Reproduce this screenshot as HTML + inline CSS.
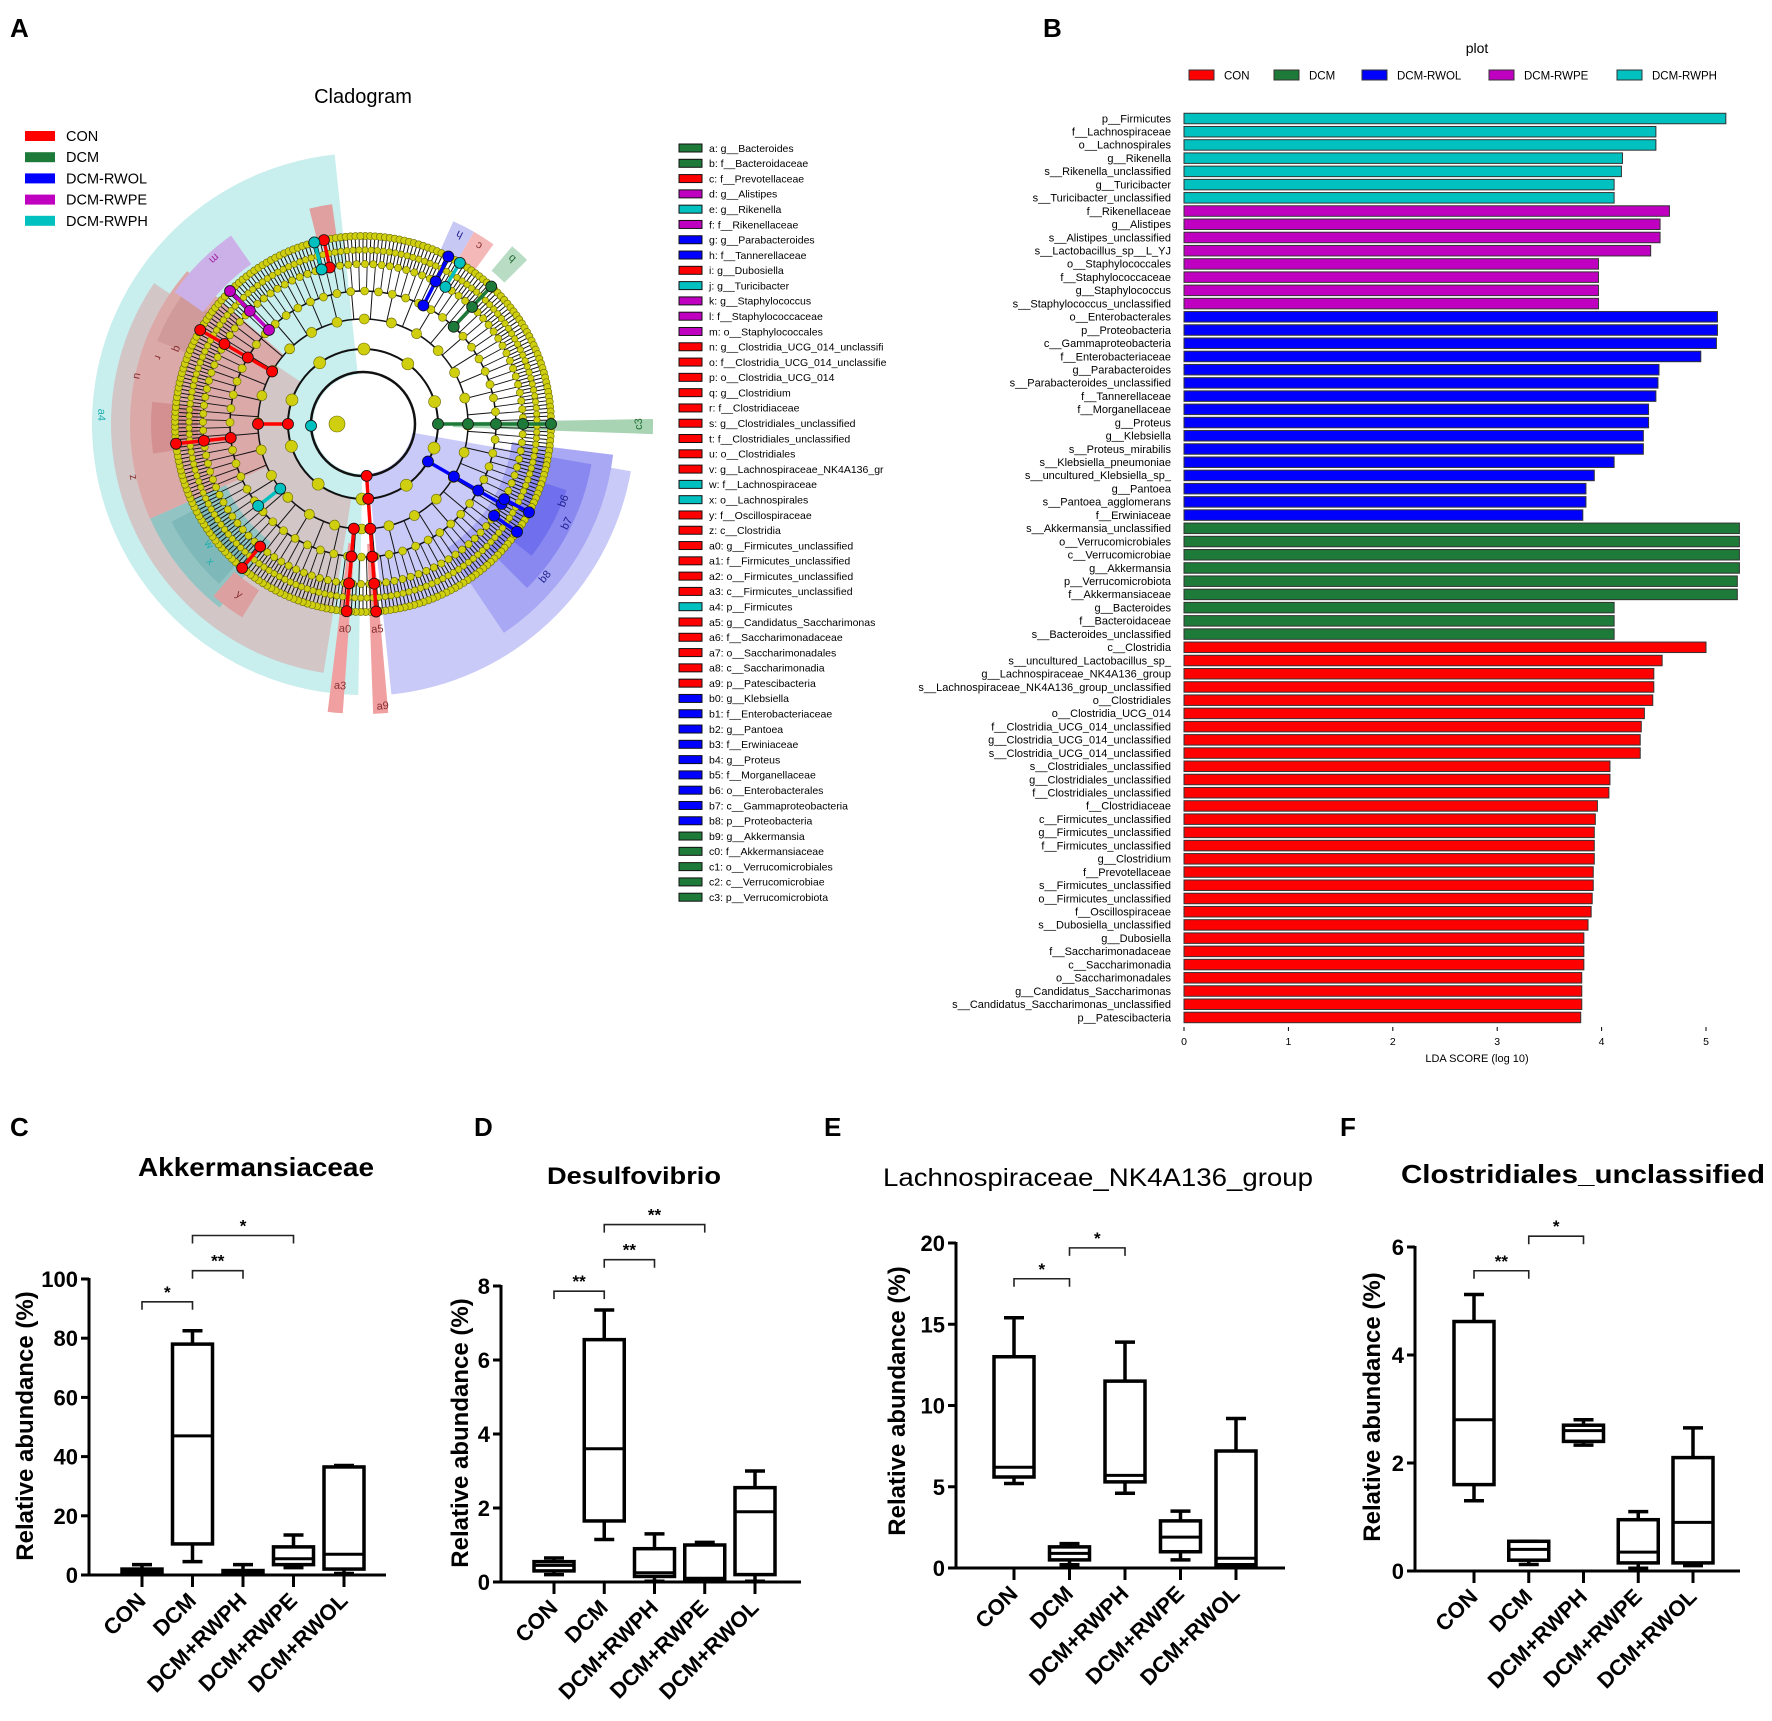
<!DOCTYPE html>
<html><head><meta charset="utf-8"><style>
html,body{margin:0;padding:0;background:#fff;}
svg text{font-family:"Liberation Sans",sans-serif;}
</style></head><body>
<svg id="fig" xmlns="http://www.w3.org/2000/svg" width="1772" height="1716" viewBox="0 0 1772 1716">
<rect x="0" y="0" width="1772" height="1716" fill="#fff"/>
<g id="panelA">
 <text x="10" y="37" font-size="26" font-weight="bold">A</text>
 <text x="363" y="103" font-size="20" text-anchor="middle">Cladogram</text>
 <g id="cladoLegend"></g>
 <g id="clado"></g>
 <g id="keyList"></g>
</g>
<g id="panelB">
 <text x="1043" y="37" font-size="26" font-weight="bold">B</text>
 <text x="1477" y="53" font-size="14" text-anchor="middle">plot</text>
 <g id="ldaLegend"></g>
 <g id="ldaBars"></g>
 <g id="ldaAxis"></g>
 <text x="1477" y="1062" font-size="11" text-anchor="middle">LDA SCORE (log 10)</text>
</g>
<g id="boxes"></g>
</svg>
<script>
const NS="http://www.w3.org/2000/svg";
function mk(parent,tag,attrs,text){const e=document.createElementNS(NS,tag);for(const k in attrs)e.setAttribute(k,attrs[k]);if(text!==undefined)e.textContent=text;parent.appendChild(e);return e;}

/* ---------- Panel B data ---------- */
const ldaLabels=["p__Firmicutes","f__Lachnospiraceae","o__Lachnospirales","g__Rikenella","s__Rikenella_unclassified","g__Turicibacter","s__Turicibacter_unclassified",
"f__Rikenellaceae","g__Alistipes","s__Alistipes_unclassified","s__Lactobacillus_sp__L_YJ","o__Staphylococcales","f__Staphylococcaceae","g__Staphylococcus","s__Staphylococcus_unclassified",
"o__Enterobacterales","p__Proteobacteria","c__Gammaproteobacteria","f__Enterobacteriaceae","g__Parabacteroides","s__Parabacteroides_unclassified","f__Tannerellaceae","f__Morganellaceae","g__Proteus","g__Klebsiella","s__Proteus_mirabilis","s__Klebsiella_pneumoniae","s__uncultured_Klebsiella_sp_","g__Pantoea","s__Pantoea_agglomerans","f__Erwiniaceae",
"s__Akkermansia_unclassified","o__Verrucomicrobiales","c__Verrucomicrobiae","g__Akkermansia","p__Verrucomicrobiota","f__Akkermansiaceae","g__Bacteroides","f__Bacteroidaceae","s__Bacteroides_unclassified",
"c__Clostridia","s__uncultured_Lactobacillus_sp_","g__Lachnospiraceae_NK4A136_group","s__Lachnospiraceae_NK4A136_group_unclassified","o__Clostridiales","o__Clostridia_UCG_014","f__Clostridia_UCG_014_unclassified","g__Clostridia_UCG_014_unclassified","s__Clostridia_UCG_014_unclassified","s__Clostridiales_unclassified","g__Clostridiales_unclassified","f__Clostridiales_unclassified","f__Clostridiaceae","c__Firmicutes_unclassified","g__Firmicutes_unclassified","f__Firmicutes_unclassified","g__Clostridium","f__Prevotellaceae","s__Firmicutes_unclassified","o__Firmicutes_unclassified","f__Oscillospiraceae","s__Dubosiella_unclassified","g__Dubosiella","f__Saccharimonadaceae","c__Saccharimonadia","o__Saccharimonadales","g__Candidatus_Saccharimonas","s__Candidatus_Saccharimonas_unclassified","p__Patescibacteria"];
const ldaScores=[5.19,4.52,4.52,4.20,4.19,4.12,4.12,
4.65,4.56,4.56,4.47,3.97,3.97,3.97,3.97,
5.11,5.11,5.10,4.95,4.55,4.54,4.52,4.45,4.45,4.40,4.40,4.12,3.93,3.85,3.85,3.82,
5.32,5.32,5.32,5.32,5.30,5.30,4.12,4.12,4.12,
5.00,4.58,4.50,4.50,4.49,4.41,4.38,4.37,4.37,4.08,4.08,4.07,3.96,3.94,3.93,3.93,3.93,3.92,3.92,3.91,3.90,3.87,3.83,3.83,3.83,3.81,3.81,3.81,3.80];
const ldaGroups=["DCM-RWPH","DCM-RWPH","DCM-RWPH","DCM-RWPH","DCM-RWPH","DCM-RWPH","DCM-RWPH",
"DCM-RWPE","DCM-RWPE","DCM-RWPE","DCM-RWPE","DCM-RWPE","DCM-RWPE","DCM-RWPE","DCM-RWPE",
"DCM-RWOL","DCM-RWOL","DCM-RWOL","DCM-RWOL","DCM-RWOL","DCM-RWOL","DCM-RWOL","DCM-RWOL","DCM-RWOL","DCM-RWOL","DCM-RWOL","DCM-RWOL","DCM-RWOL","DCM-RWOL","DCM-RWOL","DCM-RWOL",
"DCM","DCM","DCM","DCM","DCM","DCM","DCM","DCM","DCM",
"CON","CON","CON","CON","CON","CON","CON","CON","CON","CON","CON","CON","CON","CON","CON","CON","CON","CON","CON","CON","CON","CON","CON","CON","CON","CON","CON","CON","CON"];
const groupNames=["CON","DCM","DCM-RWOL","DCM-RWPE","DCM-RWPH"];
const groupColors={"CON":"#ff0000","DCM":"#1e7a38","DCM-RWOL":"#0000ff","DCM-RWPE":"#c000c0","DCM-RWPH":"#00c0c0"};
const ldaTicks=[0,1,2,3,4,5];

/* ---------- Cladogram key list ---------- */
const keyLabels=["a: g__Bacteroides","b: f__Bacteroidaceae","c: f__Prevotellaceae","d: g__Alistipes","e: g__Rikenella","f: f__Rikenellaceae","g: g__Parabacteroides","h: f__Tannerellaceae","i: g__Dubosiella","j: g__Turicibacter","k: g__Staphylococcus","l: f__Staphylococcaceae","m: o__Staphylococcales","n: g__Clostridia_UCG_014_unclassifi","o: f__Clostridia_UCG_014_unclassifie","p: o__Clostridia_UCG_014","q: g__Clostridium","r: f__Clostridiaceae","s: g__Clostridiales_unclassified","t: f__Clostridiales_unclassified","u: o__Clostridiales","v: g__Lachnospiraceae_NK4A136_gr","w: f__Lachnospiraceae","x: o__Lachnospirales","y: f__Oscillospiraceae","z: c__Clostridia","a0: g__Firmicutes_unclassified","a1: f__Firmicutes_unclassified","a2: o__Firmicutes_unclassified","a3: c__Firmicutes_unclassified","a4: p__Firmicutes","a5: g__Candidatus_Saccharimonas","a6: f__Saccharimonadaceae","a7: o__Saccharimonadales","a8: c__Saccharimonadia","a9: p__Patescibacteria","b0: g__Klebsiella","b1: f__Enterobacteriaceae","b2: g__Pantoea","b3: f__Erwiniaceae","b4: g__Proteus","b5: f__Morganellaceae","b6: o__Enterobacterales","b7: c__Gammaproteobacteria","b8: p__Proteobacteria","b9: g__Akkermansia","c0: f__Akkermansiaceae","c1: o__Verrucomicrobiales","c2: c__Verrucomicrobiae","c3: p__Verrucomicrobiota"];
const keyGroups=["DCM","DCM","CON","DCM-RWPE","DCM-RWPH","DCM-RWPE","DCM-RWOL","DCM-RWOL","CON","DCM-RWPH","DCM-RWPE","DCM-RWPE","DCM-RWPE","CON","CON","CON","CON","CON","CON","CON","CON","CON","DCM-RWPH","DCM-RWPH","CON","CON","CON","CON","CON","CON","DCM-RWPH","CON","CON","CON","CON","CON","DCM-RWOL","DCM-RWOL","DCM-RWOL","DCM-RWOL","DCM-RWOL","DCM-RWOL","DCM-RWOL","DCM-RWOL","DCM-RWOL","DCM","DCM","DCM","DCM","DCM"];

/* ---------- Boxplot data ---------- */
const boxCats=["CON","DCM","DCM+RWPH","DCM+RWPE","DCM+RWOL"];
const akkMin=[0.5,4.5,0.3,2.5,0.5], akkQ1=[0.7,10.5,0.5,3.5,2], akkMed=[1.5,47,1,5.5,7], akkQ3=[2,78,1.5,9.5,36.5], akkMax=[3.5,82.5,3.5,13.5,37];
const akkTicks=[0,20,40,60,80,100];
const akkSigFrom=[0,1,1], akkSigTo=[1,2,3], akkSigY=[92.3,102.8,114.7], akkSigTxt=["*","**","*"];
const desMin=[0.2,1.15,0.02,0.02,0.02], desQ1=[0.3,1.65,0.15,0.05,0.2], desMed=[0.45,3.6,0.25,0.1,1.9], desQ3=[0.55,6.55,0.9,1.0,2.55], desMax=[0.65,7.35,1.3,1.07,3.0];
const desTicks=[0,2,4,6,8];
const desSigFrom=[0,1,1], desSigTo=[1,2,3], desSigY=[7.86,8.71,9.66], desSigTxt=["**","**","**"];
const lacMin=[5.2,0.2,4.6,0.5,0.05], lacQ1=[5.6,0.5,5.3,1.0,0.2], lacMed=[6.2,0.9,5.7,1.9,0.6], lacQ3=[13,1.3,11.5,2.9,7.2], lacMax=[15.4,1.5,13.9,3.5,9.2];
const lacTicks=[0,5,10,15,20];
const lacSigFrom=[0,1], lacSigTo=[1,2], lacSigY=[17.8,19.7], lacSigTxt=["*","*"];
const cloMin=[1.3,0.12,2.33,0.05,0.1], cloQ1=[1.6,0.2,2.4,0.15,0.15], cloMed=[2.8,0.4,2.6,0.35,0.9], cloQ3=[4.62,0.55,2.7,0.95,2.1], cloMax=[5.12,0.55,2.8,1.1,2.65];
const cloTicks=[0,2,4,6];
const cloSigFrom=[0,1], cloSigTo=[1,2], cloSigY=[5.56,6.2], cloSigTxt=["**","*"];

/* ---------- Draw Panel B ---------- */
(function(){
 const X0=1184, PX=104.4, Y0=118.5, STEP=13.22, BH=10.5;
 const xs=v=>X0+v*PX, ys=i=>Y0+i*STEP;
 const lg=document.getElementById('ldaLegend');
 const legX=[1189,1274,1362,1489,1617];
 groupNames.forEach((g,i)=>{
  const r=mk(lg,'rect',{x:legX[i],y:70,width:25,height:10,fill:groupColors[g],stroke:'#333','stroke-width':1});
  
  
  const t=mk(lg,'text',{x:legX[i]+35,y:79.5,'font-size':11.5},g);
  
  
 });
 const bg=document.getElementById('ldaBars');
 ldaLabels.forEach((lab,i)=>{
  const y=ys(i);
  const b=mk(bg,'rect',{x:X0,y:y-BH/2,width:xs(ldaScores[i])-X0,height:BH,fill:groupColors[ldaGroups[i]],stroke:'#333','stroke-width':1});
  
  
  const t=mk(bg,'text',{x:1171,y:y+3.8,'font-size':11,'text-anchor':'end'},lab);
  
  
 });
 const ax=document.getElementById('ldaAxis');
 ldaTicks.forEach(v=>{
  const l=mk(ax,'line',{x1:xs(v),x2:xs(v),y1:1027,y2:1031,stroke:'#000','stroke-width':1});
  
  
  const t=mk(ax,'text',{x:xs(v),y:1045,'font-size':10.5,'text-anchor':'middle'},String(v));
  
  
 });
})();

/* ---------- Cladogram key list ---------- */
(function(){
 const kl=document.getElementById('keyList');
 keyLabels.forEach((lab,i)=>{
  const y=148+i*15.29;
  const r=mk(kl,'rect',{x:679,y:y-4,width:23,height:8,fill:groupColors[keyGroups[i]],stroke:'#111','stroke-width':1});
  
  
  const t=mk(kl,'text',{x:709,y:y+3.8,'font-size':10.5},lab);
  
  
 });
 const cl=document.getElementById('cladoLegend');
 groupNames.forEach((g,i)=>{
  const y=136+i*21.2;
  const r=mk(cl,'rect',{x:25,y:y-5,width:30,height:10,fill:groupColors[g]});
  
  
  const t=mk(cl,'text',{x:66,y:y+5,'font-size':14.5},g);
  
  
 });
})();

/* ---------- Cladogram drawing (decorative layout) ---------- */
(function(){
 const g=document.getElementById('clado');
 const CX=363, CY=424;
 const P=(r,a)=>{const t=a*Math.PI/180;return [CX+r*Math.sin(t),CY-r*Math.cos(t)];};
 function sec(r1,r2,a1,a2,fill,name){
  const large=(a2-a1)>180?1:0;
  const p1=P(r2,a1),p2=P(r2,a2),p3=P(r1,a2),p4=P(r1,a1);
  const d=`M${p1[0]},${p1[1]} A${r2},${r2} 0 ${large} 1 ${p2[0]},${p2[1]} L${p3[0]},${p3[1]} A${r1},${r1} 0 ${large} 0 ${p4[0]},${p4[1]} Z`;
  const e=mk(g,'path',{d:d,fill:fill});
  
  
 }
 sec(50,271,181,354,'#c8eeee','sector-a4');
 sec(75,252,189,304,'#d2c6c6','sector-z');
 sec(105,233,246,311,'#dca9a9','sector-u');
 sec(150,233,218,246,'#93c4c4','sector-x');
 sec(170,215,222,243,'#7fb8b8','sector-w');
 sec(196,228,212,221,'#dca0a0','sector-y');
 sec(50,272,100,174,'#cacaf8','sector-b8');
 sec(150,252,97,146,'#a8a8f4','sector-b7');
 sec(175,232,100,135,'#8888f0','sector-b6');
 sec(190,214,108,128,'#7070ee','sector-b0-b5');
 sec(165,212,262,276,'#d49090','sector-s-t');
 sec(190,222,292,306,'#d09a9a','sector-n-p');
 sec(195,230,305,325,'#ccb0e8','sector-k-m');
 sec(190,222,346,352,'#e0a0a0','sector-i-j');
 sec(190,222,24,30,'#c8c8f4','sector-g-h');
 sec(190,222,30,36,'#f4b8b8','sector-c');
 sec(200,232,40,45,'#b8dcc4','sector-a-b');
 sec(120,290,184,187,'#f0a0a0','strip-a0-a3');
 sec(120,290,175,178,'#f0a0a0','strip-a5-a9');
 sec(90,290,89,92,'#a8d4b4','strip-b9-c3');
 [[52,2.5],[75,2],[105,1.5],[133,1.5],[160,1.3]].forEach(([r,w])=>{
  const c=mk(g,'circle',{cx:CX,cy:CY,r:r,fill:'none',stroke:'#111','stroke-width':w});
  
  
 });
 const N=300;
 for(let i=0;i<N;i++){
  const a=i*360/N; const p1=P(160,a),p2=P(188,a);
  const l=mk(g,'line',{x1:p1[0],y1:p1[1],x2:p2[0],y2:p2[1],stroke:'#111','stroke-width':1});
  
  
 }
 for(let i=0;i<120;i++){
  const a=i*3+1.5; const p1=P(133,a),p2=P(160,a);
  const l=mk(g,'line',{x1:p1[0],y1:p1[1],x2:p2[0],y2:p2[1],stroke:'#111','stroke-width':0.9});
  
  
 }
 for(let i=0;i<40;i++){
  const a=i*9+4; const p1=P(105,a),p2=P(133,a);
  const l=mk(g,'line',{x1:p1[0],y1:p1[1],x2:p2[0],y2:p2[1],stroke:'#111','stroke-width':1});
  
  
 }
 const rings=[[188,240,3.6],[174,180,3.2],[160,120,3.6],[133,60,4],[105,24,5],[75,10,6]];
 rings.forEach(([r,n,s])=>{
  for(let i=0;i<n;i++){
   const p=P(r,i*360/n+0.7);
   const c=mk(g,'circle',{cx:p[0],cy:p[1],r:s,fill:'#cfcf10',stroke:'#6a6a00','stroke-width':0.6});
   
   
  }
 });
 const cc=mk(g,'circle',{cx:CX-26,cy:CY,r:8,fill:'#cfcf10',stroke:'#6a6a00','stroke-width':0.6});
 
 
 function lineage(a,rs,col,name){
  for(let i=0;i<rs.length-1;i++){
   const p1=P(rs[i],a),p2=P(rs[i+1],a);
   const l=mk(g,'line',{x1:p1[0],y1:p1[1],x2:p2[0],y2:p2[1],stroke:col,'stroke-width':3.5});
   
   
  }
  rs.forEach(r=>{const p=P(r,a);
   const c=mk(g,'circle',{cx:p[0],cy:p[1],r:5.5,fill:col,stroke:'#111','stroke-width':0.8});
   
   });
 }
 lineage(185,[105,133,160,188],'#ff0000','a0-lineage');
 lineage(176,[52,75,105,133,160,188],'#ff0000','a5-lineage');
 lineage(90,[75,105,133,160,188],'#1e7a38','c3-lineage');
 lineage(43,[133,160,188],'#1e7a38','b-lineage');
 lineage(120,[75,105,133,160],'#0000ff','b8-lineage');
 lineage(118,[160,188],'#0000ff','b0-lineage');
 lineage(125,[160,188],'#0000ff','b2-lineage');
 lineage(27,[133,160,188],'#0000ff','h-lineage');
 lineage(31,[160,188],'#00c0c0','e-lineage');
 lineage(300,[105,133,160,188],'#ff0000','u-lineage');
 lineage(270,[75,105],'#ff0000','z-lineage');
 lineage(264,[133,160,188],'#ff0000','s-lineage');
 lineage(315,[133,160,188],'#c000c0','m-lineage');
 lineage(348,[160,188],'#ff0000','i-lineage');
 lineage(345,[160,188],'#00c0c0','j-lineage');
 lineage(232,[105,133],'#00c0c0','x-lineage');
 lineage(220,[160,188],'#ff0000','y-lineage');
 lineage(268,[52],'#00c0c0','a4-lineage');
 const labs=[["a4",261,272,'#20b0b0'],["z",235,257,'#8a3030'],["u",230,282,'#8a3030'],["x",205,228,'#20b0b0'],["w",195,232,'#20b0b0'],["y",210,216,'#8a3030'],["b8",237,130,'#202090'],["b7",226,116,'#202090'],["b6",214,111,'#202090'],["a0",205,185,'#8a3030'],["a3",262,185,'#8a3030'],["a5",205,176,'#8a3030'],["a9",282,176,'#8a3030'],["c3",275,90,'#1e6a30'],["c",212,33,'#8a3030'],["h",212,27,'#202090'],["m",222,318,'#a020a0'],["q",200,292,'#8a3030'],["r",215,288,'#8a3030'],["b",222,42,'#1e6a30']];
 labs.forEach(([t,r,a,c])=>{const p=P(r,a);
  const e=mk(g,'text',{x:p[0],y:p[1]+4,'font-size':11,'text-anchor':'middle',fill:c,transform:`rotate(${a-180} ${p[0]} ${p[1]})`},t);
  
  });
})();

/* ---------- Boxplots ---------- */
function boxPanel(cfg){
 const root=document.getElementById('boxes');
 const g=mk(root,'g',{});
 
 
 const y=v=>cfg.y0-v*(cfg.y0-cfg.yTop)/cfg.max;
 const x=i=>cfg.xFirst+i*cfg.step;
 const L=mk(g,'text',{x:cfg.lx,y:1136,'font-size':26,'font-weight':'bold'},cfg.letter);
 
 
 const T=mk(g,'text',{x:cfg.tx,y:cfg.ty,'font-size':cfg.tsize,'font-weight':cfg.tbold?'bold':'normal','text-anchor':'middle',textLength:cfg.tlen,lengthAdjust:'spacingAndGlyphs'},cfg.title);
 
 
 const yl=mk(g,'text',{x:cfg.ylx,y:cfg.yly,'font-size':24,'font-weight':'bold','text-anchor':'middle',transform:`rotate(-90 ${cfg.ylx} ${cfg.yly})`},'Relative abundance (%)');
 
 
 const ya=mk(g,'line',{x1:cfg.x0,x2:cfg.x0,y1:cfg.y0+1.5,y2:y(cfg.max)-1,stroke:'#000','stroke-width':3});
 
 
 const xa=mk(g,'line',{x1:cfg.x0-1.5,x2:cfg.xEnd,y1:cfg.y0,y2:cfg.y0,stroke:'#000','stroke-width':3});
 
 
 cfg.ticks.forEach(v=>{
  const l=mk(g,'line',{x1:cfg.x0-8,x2:cfg.x0,y1:y(v),y2:y(v),stroke:'#000','stroke-width':3});
  
  
  const t=mk(g,'text',{x:cfg.x0-11,y:y(v)+8,'font-size':22,'font-weight':'bold','text-anchor':'end'},String(v));
  
  
 });
 boxCats.forEach((c,i)=>{
  const cx=x(i);
  const tk=mk(g,'line',{x1:cx,x2:cx,y1:cfg.y0,y2:cfg.y0+12,stroke:'#000','stroke-width':3});
  
  
  const lx=cx+5, ly=cfg.y0+27;
  const t=mk(g,'text',{x:lx,y:ly,'font-size':22,'font-weight':'bold','text-anchor':'end',transform:`rotate(-45 ${lx} ${ly})`},c);
  
  
  const hw=20, cw=10;
  const w1=mk(g,'line',{x1:cx,x2:cx,y1:y(cfg.max_[i]),y2:y(cfg.q3[i]),stroke:'#000','stroke-width':3.5});
  
  
  const w2=mk(g,'line',{x1:cx,x2:cx,y1:y(cfg.q1[i]),y2:y(cfg.min[i]),stroke:'#000','stroke-width':3.5});
  
  
  const c1=mk(g,'line',{x1:cx-cw,x2:cx+cw,y1:y(cfg.max_[i]),y2:y(cfg.max_[i]),stroke:'#000','stroke-width':3.5});
  
  
  const c2=mk(g,'line',{x1:cx-cw,x2:cx+cw,y1:y(cfg.min[i]),y2:y(cfg.min[i]),stroke:'#000','stroke-width':3.5});
  
  
  const b=mk(g,'rect',{x:cx-hw,y:y(cfg.q3[i]),width:2*hw,height:Math.max(0.5,y(cfg.q1[i])-y(cfg.q3[i])),fill:'#fff',stroke:'#000','stroke-width':3.5});
  
  
  const m=mk(g,'line',{x1:cx-hw,x2:cx+hw,y1:y(cfg.med[i]),y2:y(cfg.med[i]),stroke:'#000','stroke-width':3});
  
  
 });
 cfg.sigFrom.forEach((f,k)=>{
  const x1=x(f), x2=x(cfg.sigTo[k]), yy=y(cfg.sigY[k]);
  const br=mk(g,'path',{d:`M${x1},${yy+8} V${yy} H${x2} V${yy+8}`,fill:'none',stroke:'#222','stroke-width':1.6});
  
  
  const t=mk(g,'text',{x:(x1+x2)/2,y:yy-4,'font-size':17,'font-weight':'bold','text-anchor':'middle'},cfg.sigTxt[k]);
  
  
 });
}
boxPanel({name:'panel-c-akkermansiaceae',letter:'C',lx:10,title:'Akkermansiaceae',tx:256,ty:1176,tsize:26,tbold:true,tlen:236,
 ylx:33,yly:1426,x0:89,y0:1575,yTop:1279,max:100,xFirst:142,step:50.5,xEnd:386,ticks:akkTicks,
 min:akkMin,q1:akkQ1,med:akkMed,q3:akkQ3,max_:akkMax,sigFrom:akkSigFrom,sigTo:akkSigTo,sigY:akkSigY,sigTxt:akkSigTxt});
boxPanel({name:'panel-d-desulfovibrio',letter:'D',lx:474,title:'Desulfovibrio',tx:634,ty:1184,tsize:24,tbold:true,tlen:174,
 ylx:468,yly:1433,x0:501,y0:1582,yTop:1286,max:8,xFirst:554,step:50.25,xEnd:801,ticks:desTicks,
 min:desMin,q1:desQ1,med:desMed,q3:desQ3,max_:desMax,sigFrom:desSigFrom,sigTo:desSigTo,sigY:desSigY,sigTxt:desSigTxt});
boxPanel({name:'panel-e-lachnospiraceae',letter:'E',lx:824,title:'Lachnospiraceae_NK4A136_group',tx:1098,ty:1186,tsize:25,tbold:false,tlen:430,
 ylx:905,yly:1401,x0:956,y0:1568,yTop:1243,max:20,xFirst:1014,step:55.5,xEnd:1285,ticks:lacTicks,
 min:lacMin,q1:lacQ1,med:lacMed,q3:lacQ3,max_:lacMax,sigFrom:lacSigFrom,sigTo:lacSigTo,sigY:lacSigY,sigTxt:lacSigTxt});
boxPanel({name:'panel-f-clostridiales',letter:'F',lx:1340,title:'Clostridiales_unclassified',tx:1583,ty:1183,tsize:26,tbold:true,tlen:364,
 ylx:1380,yly:1407,x0:1415,y0:1571,yTop:1247,max:6,xFirst:1474,step:54.75,xEnd:1740,ticks:cloTicks,
 min:cloMin,q1:cloQ1,med:cloMed,q3:cloQ3,max_:cloMax,sigFrom:cloSigFrom,sigTo:cloSigTo,sigY:cloSigY,sigTxt:cloSigTxt});
</script>
</body></html>
